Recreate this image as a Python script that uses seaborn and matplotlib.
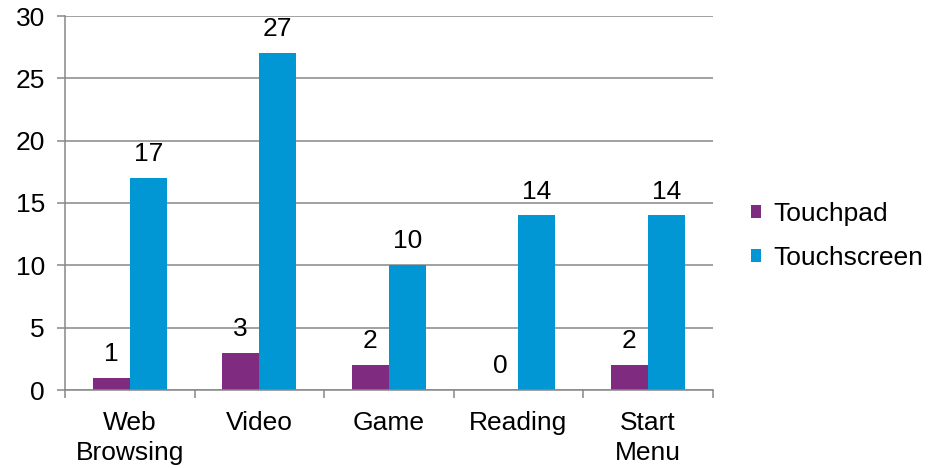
import matplotlib
matplotlib.use("Agg")
import matplotlib.pyplot as plt
from matplotlib.ticker import FixedLocator
import seaborn as sns
import pandas as pd

categories = ["Web\nBrowsing", "Video", "Game", "Reading", "Start\nMenu"]
touchpad = [1, 3, 2, 0, 2]
touchscreen = [17, 27, 10, 14, 14]
series_names = ["Touchpad", "Touchscreen"]
colors = ["#7E2B80", "#0097D4"]
y_ticks = [0, 5, 10, 15, 20, 25, 30]

df = pd.DataFrame({
    "category": categories * 2,
    "series": [series_names[0]] * len(categories) + [series_names[1]] * len(categories),
    "value": touchpad + touchscreen,
})

sns.set_theme(style="white")
plt.rcParams["font.family"] = ["Liberation Sans", "DejaVu Sans"]
plt.rcParams["text.color"] = "black"
plt.rcParams["xtick.labelcolor"] = "black"
plt.rcParams["ytick.labelcolor"] = "black"

fig = plt.figure(figsize=(9.30, 4.68), dpi=100)
ax = fig.add_axes([65 / 930, 1 - 390 / 468, (712.7 - 65) / 930, (390 - 16) / 468])

sns.barplot(data=df, x="category", y="value", hue="series", order=categories,
            hue_order=series_names, palette=colors, width=0.572, gap=0,
            saturation=1, linewidth=0, ax=ax)

ax.set_xlim(-0.5, len(categories) - 0.5)
ax.set_ylim(0, 30)
ax.set_yticks(y_ticks)
ax.set_xlabel("")
ax.set_ylabel("")

grid_color = "#888888"
ax.yaxis.grid(True, color=grid_color, linewidth=1.1)
ax.set_axisbelow(True)
for side in ["top", "right"]:
    ax.spines[side].set_visible(False)
for side in ["left", "bottom"]:
    ax.spines[side].set_color(grid_color)
    ax.spines[side].set_linewidth(1.1)

fs = 19
ax.tick_params(axis="y", which="major", length=6, width=1.1, color=grid_color,
               labelsize=fs, labelcolor="black", pad=8.5, left=True)
ax.tick_params(axis="x", which="major", length=0, labelsize=fs,
               labelcolor="black", pad=15)
ax.xaxis.set_minor_locator(FixedLocator([i - 0.5 for i in range(len(categories) + 1)]))
ax.tick_params(axis="x", which="minor", length=6, width=1.1, color=grid_color,
               bottom=True, direction="out")
for lbl in ax.get_xticklabels():
    lbl.set_linespacing(1.3)

# value labels above each bar
for container in ax.containers:
    for bar in container:
        h = bar.get_height()
        ax.annotate(f"{h:.0f}", (bar.get_x() + bar.get_width() / 2, h),
                    xytext=(0, 12.2), textcoords="offset points",
                    ha="center", va="baseline", fontsize=fs, color="black")

leg = ax.legend(loc="center left", bbox_to_anchor=(1.022, 0.412), frameon=False,
                fontsize=fs, handlelength=0.4, handleheight=0.4,
                handletextpad=0.45, labelspacing=0.78)
for t in leg.get_texts():
    t.set_color("black")
ax.set_title("")

fig.savefig("out.png", dpi=100)
